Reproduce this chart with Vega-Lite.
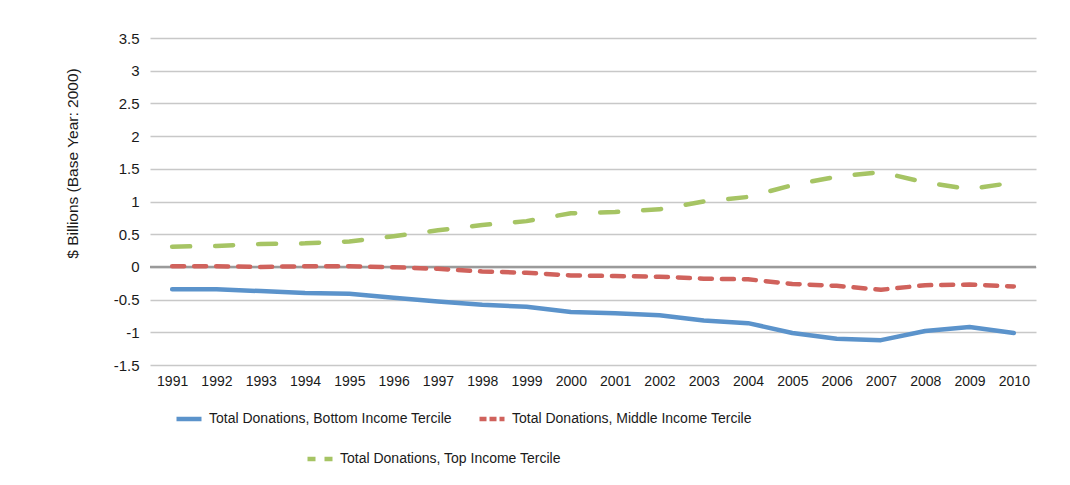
{
  "$schema": "https://vega.github.io/schema/vega-lite/v6.json",
  "width": 886,
  "height": 327,
  "autosize": {"type": "none"},
  "padding": {"left": 150, "top": 38, "right": 34, "bottom": 120},
  "background": "white",
  "config": {
    "font": "Liberation Sans",
    "view": {"stroke": null},
    "axis": {"labelColor": "#1a1a1a", "titleColor": "#1a1a1a", "labelFontSize": 14, "titleFontSize": 15.5, "titleFontWeight": "normal"},
    "legend": {"labelFontSize": 14, "labelColor": "#1a1a1a", "symbolType": "stroke", "symbolSize": 625, "symbolStrokeWidth": 4.5, "title": null, "labelOffset": 5, "labelLimit": 500}
  },
  "datasets": {
    "bottom": [
      {"year": "1991", "series": "Total Donations, Bottom Income Tercile", "value": -0.34},
      {"year": "1992", "series": "Total Donations, Bottom Income Tercile", "value": -0.34},
      {"year": "1993", "series": "Total Donations, Bottom Income Tercile", "value": -0.37},
      {"year": "1994", "series": "Total Donations, Bottom Income Tercile", "value": -0.40},
      {"year": "1995", "series": "Total Donations, Bottom Income Tercile", "value": -0.41},
      {"year": "1996", "series": "Total Donations, Bottom Income Tercile", "value": -0.47},
      {"year": "1997", "series": "Total Donations, Bottom Income Tercile", "value": -0.53},
      {"year": "1998", "series": "Total Donations, Bottom Income Tercile", "value": -0.58},
      {"year": "1999", "series": "Total Donations, Bottom Income Tercile", "value": -0.61},
      {"year": "2000", "series": "Total Donations, Bottom Income Tercile", "value": -0.69},
      {"year": "2001", "series": "Total Donations, Bottom Income Tercile", "value": -0.71},
      {"year": "2002", "series": "Total Donations, Bottom Income Tercile", "value": -0.74},
      {"year": "2003", "series": "Total Donations, Bottom Income Tercile", "value": -0.82},
      {"year": "2004", "series": "Total Donations, Bottom Income Tercile", "value": -0.86},
      {"year": "2005", "series": "Total Donations, Bottom Income Tercile", "value": -1.01},
      {"year": "2006", "series": "Total Donations, Bottom Income Tercile", "value": -1.10},
      {"year": "2007", "series": "Total Donations, Bottom Income Tercile", "value": -1.12},
      {"year": "2008", "series": "Total Donations, Bottom Income Tercile", "value": -0.98},
      {"year": "2009", "series": "Total Donations, Bottom Income Tercile", "value": -0.92},
      {"year": "2010", "series": "Total Donations, Bottom Income Tercile", "value": -1.01}
    ],
    "middle": [
      {"year": "1991", "series": "Total Donations, Middle Income Tercile", "value": 0.01},
      {"year": "1992", "series": "Total Donations, Middle Income Tercile", "value": 0.01},
      {"year": "1993", "series": "Total Donations, Middle Income Tercile", "value": 0.0},
      {"year": "1994", "series": "Total Donations, Middle Income Tercile", "value": 0.01},
      {"year": "1995", "series": "Total Donations, Middle Income Tercile", "value": 0.01},
      {"year": "1996", "series": "Total Donations, Middle Income Tercile", "value": -0.005},
      {"year": "1997", "series": "Total Donations, Middle Income Tercile", "value": -0.03},
      {"year": "1998", "series": "Total Donations, Middle Income Tercile", "value": -0.07},
      {"year": "1999", "series": "Total Donations, Middle Income Tercile", "value": -0.09},
      {"year": "2000", "series": "Total Donations, Middle Income Tercile", "value": -0.13},
      {"year": "2001", "series": "Total Donations, Middle Income Tercile", "value": -0.14},
      {"year": "2002", "series": "Total Donations, Middle Income Tercile", "value": -0.15},
      {"year": "2003", "series": "Total Donations, Middle Income Tercile", "value": -0.18},
      {"year": "2004", "series": "Total Donations, Middle Income Tercile", "value": -0.19},
      {"year": "2005", "series": "Total Donations, Middle Income Tercile", "value": -0.26},
      {"year": "2006", "series": "Total Donations, Middle Income Tercile", "value": -0.29},
      {"year": "2007", "series": "Total Donations, Middle Income Tercile", "value": -0.35},
      {"year": "2008", "series": "Total Donations, Middle Income Tercile", "value": -0.28},
      {"year": "2009", "series": "Total Donations, Middle Income Tercile", "value": -0.27},
      {"year": "2010", "series": "Total Donations, Middle Income Tercile", "value": -0.30}
    ],
    "top": [
      {"year": "1991", "series": "Total Donations, Top Income Tercile", "value": 0.31},
      {"year": "1992", "series": "Total Donations, Top Income Tercile", "value": 0.32},
      {"year": "1993", "series": "Total Donations, Top Income Tercile", "value": 0.35},
      {"year": "1994", "series": "Total Donations, Top Income Tercile", "value": 0.36},
      {"year": "1995", "series": "Total Donations, Top Income Tercile", "value": 0.39},
      {"year": "1996", "series": "Total Donations, Top Income Tercile", "value": 0.47},
      {"year": "1997", "series": "Total Donations, Top Income Tercile", "value": 0.56},
      {"year": "1998", "series": "Total Donations, Top Income Tercile", "value": 0.64},
      {"year": "1999", "series": "Total Donations, Top Income Tercile", "value": 0.70},
      {"year": "2000", "series": "Total Donations, Top Income Tercile", "value": 0.82},
      {"year": "2001", "series": "Total Donations, Top Income Tercile", "value": 0.84},
      {"year": "2002", "series": "Total Donations, Top Income Tercile", "value": 0.88},
      {"year": "2003", "series": "Total Donations, Top Income Tercile", "value": 1.0},
      {"year": "2004", "series": "Total Donations, Top Income Tercile", "value": 1.07},
      {"year": "2005", "series": "Total Donations, Top Income Tercile", "value": 1.25},
      {"year": "2006", "series": "Total Donations, Top Income Tercile", "value": 1.38},
      {"year": "2007", "series": "Total Donations, Top Income Tercile", "value": 1.45},
      {"year": "2008", "series": "Total Donations, Top Income Tercile", "value": 1.29},
      {"year": "2009", "series": "Total Donations, Top Income Tercile", "value": 1.19},
      {"year": "2010", "series": "Total Donations, Top Income Tercile", "value": 1.29}
    ],
    "zero": [{"value": 0}]
  },
  "encoding": {
    "y": {"field": "value", "type": "quantitative", "scale": {"domain": [-1.5, 3.5], "nice": false, "zero": false},
      "axis": {"title": "$ Billions (Base Year: 2000)", "values": [-1.5, -1, -0.5, 0, 0.5, 1, 1.5, 2, 2.5, 3, 3.5], "labelExpr": "toString(datum.value)", "domain": false, "ticks": false, "labelPadding": 11, "labelFontSize": 15, "gridColor": "#c8c8c8", "gridWidth": 1.5, "titleX": -70, "titleY": 125}}
  },
  "layer": [
    {
      "data": {"name": "zero"},
      "mark": {"type": "rule", "color": "#9a9a9a", "strokeWidth": 2.5},
      "encoding": {}
    },
    {
      "encoding": {
        "x": {"field": "year", "type": "ordinal", "scale": {"padding": 0.5}, "axis": {"title": null, "labelAngle": 0, "domain": false, "ticks": false, "grid": false, "labelPadding": 9}},
        "color": {"field": "series", "type": "nominal", "scale": {"range": ["#5b93cb", "#d0625c"]},
          "legend": {"orient": "none", "legendX": 24, "legendY": 366, "direction": "horizontal", "columnPadding": 18,
            "encode": {"symbols": {"update": {"strokeDash": {"signal": "indexof(datum.label, 'Middle') >= 0 ? [7, 3] : [1, 0]"}}}}}}
      },
      "layer": [
        {
          "data": {"name": "bottom"},
          "mark": {"type": "line", "strokeWidth": 4.5, "strokeCap": "round", "strokeJoin": "round"}
        },
        {
          "data": {"name": "middle"},
          "mark": {"type": "line", "strokeWidth": 4.5, "strokeCap": "round", "strokeJoin": "round", "strokeDash": [12, 10]}
        }
      ]
    },
    {
      "data": {"name": "top"},
      "mark": {"type": "line", "strokeWidth": 4.5, "strokeCap": "round", "strokeJoin": "round", "strokeDash": [18, 25]},
      "encoding": {
        "x": {"field": "year", "type": "ordinal", "scale": {"padding": 0.5}, "axis": {"title": null, "labelAngle": 0, "domain": false, "ticks": false, "grid": false, "labelPadding": 9}},
        "color": {"field": "series", "type": "nominal", "scale": {"range": ["#a6c464"]},
          "legend": {"orient": "none", "legendX": 155, "legendY": 406, "direction": "horizontal", "symbolDash": [8, 9]}}
      }
    }
  ],
  "resolve": {"scale": {"color": "independent"}}
}
